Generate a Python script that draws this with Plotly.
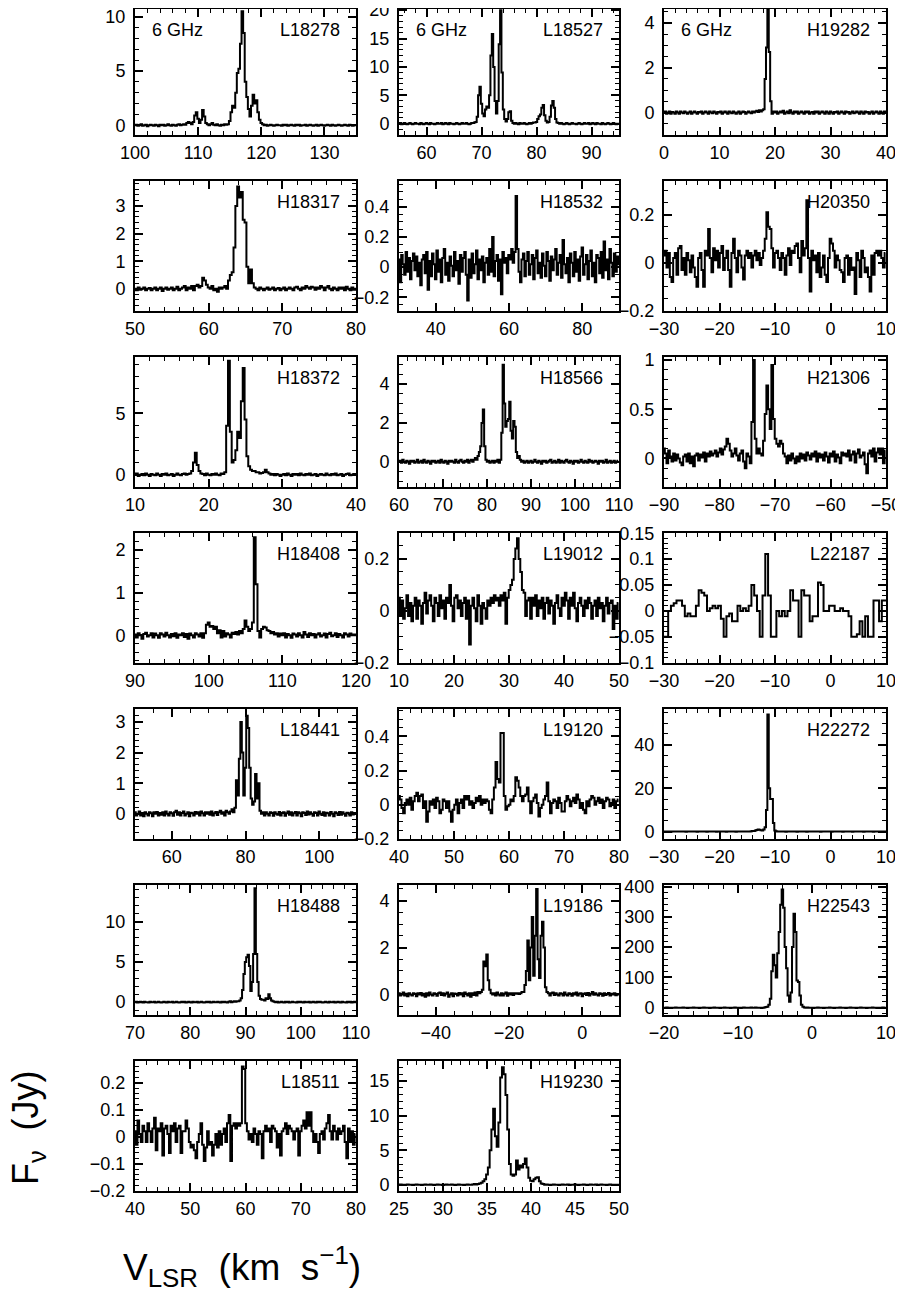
import numpy as np
import plotly.graph_objects as go

# ---------------- data: flux density (Jy) per channel ----------------
# each spectrum: first channel velocity V0, channel width DV (km/s)
L18278 = [0, .05, -.05, 0, .1, -.05, 0, .05, -.1, 0,
          .05, 0, -.05, .05, 0, -.1, .05, 0, .05, -.05,
          0, .1, 0, -.05, .05, 0, -.05, .05, .1, 0,
          .05, .1, .05, .2, .3, .2, .1, .3, .9, 1.2,
          .6, .2, .5, 1.4, .8, .2, .1, 0, .1, .2,
          .05, 0, .1, 0, -.05, .05, 0, .1, .05, .1,
          .4, 1.2, 1.8, 1.6, 3.0, 4.8, 5.2, 7.5, 10.5, 8.5,
          4.0, 2.6, 1.5, .8, 1.8, 2.8, 2.0, 2.3, 1.2, .5,
          .2, .1, 0, .05, -.05, 0, .05, 0, -.05, 0,
          .05, 0, 0, -.05, .05, 0, .05, -.05, 0, .05,
          0, -.05, .05, 0, .05, -.05, 0, 0, .05, -.05,
          0, .05, 0, -.05, 0, .05, -.05, 0, .05, 0,
          -.05, 0, .05, 0, -.05, .05, 0, -.05, 0, .05,
          0, -.05, 0, .05, 0, -.05, .05, 0, -.05, 0,
          0]
L18527 = [0, .1, -.1, 0, .1, 0, -.1, 0, .1, 0,
          -.1, 0, .1, 0, 0, -.1, .1, 0, -.1, 0,
          .1, 0, -.1, .1, 0, 0, -.1, 0, .1, 0,
          0, .1, -.1, 0, .1, 0, -.1, .1, 0, 0,
          -.1, 0, .1, 0, -.1, 0, .1, 0, 0, .1,
          0, -.1, 0, .1, .1, .2, .3, 1.2, 5.0, 6.5,
          3.5, 1.8, 1.3, 2.5, 3.0, 2.8, 5.0, 12, 15.8, 10,
          4.0, 1.8, 4.0, 14, 20, 9, 2.5, .8, .4, .8,
          2.0, 2.2, .5, .1, 0, .1, 0, -.1, .1, 0,
          0, .1, 0, -.1, 0, .1, 0, .1, .2, .2,
          .3, .8, 1.3, 1.6, 2.8, 3.3, 1.5, .5, .2, .3,
          1.2, 3.2, 4.0, 2.8, .8, .2, .1, 0, .1, 0,
          -.1, 0, .1, 0, -.1, 0, .1, 0, 0, -.1,
          0, .1, 0, -.1, 0, .1, 0, 0, .1, -.1,
          0, .1, 0, -.1, .1, 0, 0, -.1, .1, 0,
          -.1, 0, .1, 0, -.1, 0, .1, 0, -.1, 0,
          0]
H19282 = [0, .05, -.05, 0, .05, -.05, .03, 0, -.05, .05,
          0, -.05, .05, 0, -.03, .05, 0, -.05, 0, .05,
          -.05, 0, .05, 0, -.05, .03, 0, .05, -.05, 0,
          .05, 0, -.05, .05, 0, -.03, .05, 0, -.05, .03,
          0, .05, -.05, 0, .05, 0, -.05, .05, 0, -.03,
          .05, 0, -.05, 0, .05, -.05, 0, .05, .03, -.05,
          0, .05, 0, -.03, .05, 0, .05, .08, .03, .1,
          .05, .1, .15, 1.5, 2.9, 4.6, 2.7, .5, -.05, .05,
          0, .05, -.05, 0, .05, 0, .08, -.05, 0, .05,
          -.03, .1, 0, -.05, .05, 0, .05, -.05, 0, .05,
          0, -.05, .05, 0, .05, -.05, 0, .03, -.05, .05,
          0, .05, -.05, 0, .05, 0, -.05, .05, 0, -.05,
          .05, 0, -.05, .03, 0, .05, -.05, 0, .05, 0,
          -.05, .05, 0, .03, -.05, 0, .05, -.03, 0, .05,
          0, -.05, .05, 0, -.05, .05, 0, .03, -.05, 0,
          .05, -.05, 0, .05, 0, -.05, .05, 0, -.05, .05,
          0]
H18317 = [0, -.05, .05, -.03, 0, .05, -.05, 0, .03, -.05,
          0, .05, -.05, 0, .05, -.08, 0, .05, -.03, 0,
          .05, -.05, 0, .08, -.05, 0, .05, .1, -.05, .05,
          0, .1, -.05, .1, .15, .05, .1, .4, .3, .15,
          .05, 0, .1, -.05, 0, -.1, .05, 0, .05, .1,
          0, .3, .5, .6, 1.5, 3.0, 3.7, 3.3, 3.5, 2.5,
          2.4, .8, .2, .7, .2, .05, 0, -.05, .05, 0,
          -.05, 0, .05, -.03, 0, .05, -.05, 0, .03, -.05,
          0, .05, -.05, 0, .05, 0, -.05, .05, .08, 0,
          -.05, .05, 0, .1, .05, 0, .08, .05, -.03, .05,
          0, .1, .05, -.05, .05, .1, 0, -.05, .05, 0,
          -.05, .05, 0, .05, -.05, .08, 0, -.05, .05, -.03,
          0]
H18532 = [.05, -.1, .08, .02, -.05, .1, -.03, .06, -.08, .04,
          .09, -.02, .07, -.06, .03, -.12, .05, .08, -.04, .1,
          -.15, .04, -.06, .09, .02, -.08, .11, -.03, .05, -.1,
          .06, .12, -.05, .03, -.09, .07, .01, -.06, .1, -.02,
          .04, -.11, .08, -.03, .06, .1, -.05, -.22, .05, -.07,
          .09, -.04, .02, .11, -.08, .05, -.02, .07, -.1, .03,
          .06, -.05, .12, -.03, .2, -.06, .04, .08, -.09, .05,
          -.18, .1, .03, .06, -.04, .08, .05, .12, .03, .1,
          .47, .12, -.03, -.1, .05, .09, -.06, .04, .1, -.05,
          .02, .08, -.08, .06, .11, -.04, .03, -.07, .09, .01,
          -.06, .1, .04, -.09, .07, -.02, .05, .12, -.05, .03,
          .08, -.07, .18, .02, -.04, .06, -.1, .09, .03, -.06,
          .1, -.03, .05, -.09, .07, .13, -.05, .02, .08, -.08,
          .04, .11, -.06, .03, -.1, .08, .06, -.04, .1, -.07,
          .17, -.02, .05, -.08, .12, .03, -.06, .09, -.03, .07,
          .02]
H20350 = [.03, .05, -.02, .04, -.06, -.08, .02, .04, -.05, .06,
          .07, -.03, .02, -.05, .04, .01, -.04, .03, -.02, -.06,
          -.1, .02, .04, -.03, -.1, .05, .03, .14, .02, -.04,
          .06, .01, .05, -.02, .04, .07, -.03, .02, .05, -.03,
          -.1, .04, .1, .02, -.04, .05, .03, -.02, -.07, .03,
          .05, .02, .04, -.02, .03, .05, .01, .04, -.01, .02,
          .05, .1, .21, .15, .14, .06, -.02, .04, .05, .02,
          -.03, .04, .02, -.05, .03, .06, -.01, .05, .04, .07,
          .08, .02, -.04, .09, .03, .06, .26, .02, -.12, .05,
          .01, .03, -.04, .04, -.06, -.02, .03, -.05, -.08, .02,
          .1, .08, .05, -.02, .03, .01, -.03, -.04, -.08, .02,
          .03, -.05, .02, -.03, -.02, -.13, .04, .01, -.06, .05,
          .02, -.04, -.02, -.06, -.12, .03, -.05, .04, .05, .03,
          .05, .02, -.02, .04]
H18372 = [0, .1, -.1, 0, .05, -.05, .1, 0, -.1, .05,
          0, -.05, .1, 0, -.1, .05, 0, .1, -.05, 0,
          .05, -.1, 0, .1, 0, -.05, .05, .1, 0, .05,
          .1, .3, 1.0, 1.8, .8, .3, .1, .05, -.05, .1,
          0, -.05, .05, 0, .1, 0, -.05, .1, .05, .2,
          4.0, 9.3, 3.5, 1.0, 1.2, 2.0, 3.5, 3.0, 6.0, 8.7,
          4.5, 1.5, .7, .4, .3, .3, .2, .2, .1, .15,
          .2, .4, .2, .1, 0, .05, -.05, .05, 0, -.1,
          0, .05, -.05, .1, 0, -.1, .05, 0, .05, -.05,
          .1, 0, -.05, .05, 0, .1, -.05, 0, .05, -.1,
          0, .05, 0, -.05, .1, 0, -.05, .05, 0, .1,
          -.05, 0, .05, -.1, 0, .05, .1, -.05, 0, .05,
          0]
H18566 = [0, .05, -.05, .1, 0, -.05, .05, 0, -.1, .05,
          0, .05, -.05, 0, .1, -.05, 0, .05, -.05, .1,
          0, -.05, .05, 0, -.1, .05, 0, .05, -.05, 0,
          .05, -.05, .1, 0, -.05, .05, 0, -.1, .05, 0,
          .05, 0, -.05, .1, 0, -.05, .05, .1, 0, -.05,
          .05, 0, .1, -.05, .05, .1, 0, .1, .2, .1,
          .3, .5, .8, 2.0, 2.7, .8, .1, 0, .05, -.05,
          0, .05, -.05, .05, 0, .1, -.05, .1, 1.5, 5.0,
          3.0, 1.8, 2.1, 2.2, 3.1, 1.6, 1.2, 2.1, 1.8, .5,
          .2, .3, .1, 0, .05, -.05, 0, .05, -.05, 0,
          .05, -.05, 0, .1, 0, -.05, .05, 0, -.1, .05,
          0, .05, -.05, 0, .05, .1, -.05, 0, .05, -.05,
          0, .1, -.05, .05, 0, -.05, .05, .1, 0, -.05,
          .05, 0, -.1, .05, 0, .05, -.05, 0, .1, 0,
          -.05, .05, 0, -.05, .1, 0, .05, -.05, 0, .05,
          0, -.1, .05, 0, .05, -.05, 0, .1, -.05, 0,
          .05, -.05, 0, .05, -.05, 0, .05]
H21306 = [.1, .05, -.05, .08, .02, -.03, .05, -.02, .04, 0,
          -.04, -.07, .02, .04, -.03, .05, -.05, .02, -.08, .03,
          .05, -.02, .04, .01, .06, -.03, .05, .02, .07, .03,
          .05, .08, .02, .06, .1, .04, .09, .12, .2, .15,
          .08, .02, .05, .1, .03, -.02, .05, .08, -.03, -.1,
          .05, .02, -.05, .37, 1.0, .2, .05, .1, .05, .03,
          .18, .45, .74, .5, .3, .95, .4, .2, .15, .12,
          .18, .15, .05, .02, -.05, .03, -.02, .05, 0, -.05,
          .02, -.03, .05, 0, .04, -.02, .06, .03, -.01, .05,
          .02, .07, -.03, .05, .01, .04, -.02, .06, .02, -.04,
          .05, .02, .07, -.03, .04, .01, -.05, .06, .03, .05,
          .02, .08, -.02, .04, .07, -.04, .05, .09, .01, .03,
          .06, -.06, -.15, .05, .08, .02, .1, -.03, .06, .1,
          .04, .1, -.05, .08]
H18408 = [.02, -.05, .05, 0, -.08, .03, .06, -.03, 0, .05,
          -.05, .04, 0, -.06, .05, .02, -.03, .06, 0, -.05,
          .03, -.02, .05, -.06, .02, 0, .05, -.04, .03, -.08,
          .04, 0, -.05, .05, .02, -.03, .05, -.06, .05, .25,
          .3, .2, .22, .15, .2, .05, .12, -.05, .1, -.03,
          .05, .02, -.05, .06, .03, .08, .02, .1, .05, .15,
          .35, .2, .1, .15, .3, 2.3, 1.2, .1, -.05, .15,
          .2, .18, .12, .1, .05, .08, .02, .05, -.03, .04,
          0, .05, -.05, .03, 0, -.06, .04, .02, -.03, .05,
          0, -.05, .08, .02, -.04, .05, 0, .03, -.05, .02,
          .05, -.03, 0, .04, -.05, .03, .06, -.02, 0, .05,
          -.04, .03, 0, -.05, .05, .02, -.03, .04, 0, .02,
          0]
L19012 = [.05, -.02, .04, -.03, .01, .06, -.02, .03, -.04, .02,
          .05, -.03, .04, .02, -.05, .03, .07, -.01, .04, .06,
          .02, -.04, .05, .03, -.02, .06, .01, .04, -.03, .05,
          .03, .1, .02, -.04, .05, .06, .01, .04, -.02, .03,
          .05, -.03, .04, -.13, .02, .05, .01, -.04, .06, .02,
          -.05, .03, .01, -.03, .04, .02, .05, .03, .06, .04,
          .05, .02, .06, .04, .07, -.05, .05, .08, .1, .12,
          .2, .24, .28, .2, .15, .08, .07, -.02, .04, .05,
          -.03, .05, .02, .06, -.02, .04, .01, .05, -.03, .03,
          .05, -.01, .04, .02, -.05, .03, .06, .01, -.02, .05,
          .02, .07, .04, -.03, .05, .02, .07, .01, -.04, .03,
          .05, .02, -.02, .04, .01, .05, .03, -.03, .02, .04,
          -.02, .05, .01, .03, -.04, .02, .05, -.01, .03, .04,
          -.07, .02, -.03, .03]
L22187 = [-.05, -.05, 0, .01, .015, .02, .02, .01, -.01, -.005,
          -.01, -.01, .01, .04, .035, .03, 0, .005, .01, .005,
          .01, -.015, -.05, -.01, -.005, -.02, -.02, .01, 0, .005,
          0, .01, .05, .03, 0, -.05, .03, .11, .03, -.05,
          -.05, 0, -.01, 0, -.01, 0, .04, .02, .02, -.05,
          .04, .03, .03, -.02, -.01, -.01, .055, .05, 0, 0,
          .01, .01, 0, 0, .005, 0, 0, -.01, -.05, -.05,
          -.045, -.02, -.05, -.01, -.05, -.05, .02, .02, -.02, .02,
          .02]
L18441 = [.05, -.05, 0, .08, -.05, .03, -.08, .05, 0, -.05,
          .05, .02, -.08, .05, 0, .06, -.05, .03, -.03, .05,
          -.05, .08, 0, -.05, .05, .02, -.06, .05, .1, -.03,
          .05, -.05, .03, .08, -.05, 0, .05, -.08, .04, .02,
          -.05, .06, 0, .05, -.05, .08, .02, -.05, .05, 0,
          .05, -.03, .08, -.05, .02, .06, -.04, .05, .1, 0,
          .05, -.05, .1, .05, 0, .08, .15, .05, .2, 1.1,
          .6, 1.8, 3.0, 2.0, .6, 1.5, 3.2, 2.8, 1.5, .5,
          .3, .4, 1.3, .5, 1.0, .1, 0, .05, -.05, .05,
          0, -.05, .05, .03, -.06, .05, 0, -.03, .06, -.05,
          .03, .05, -.06, .02, .08, -.03, .05, -.05, .02, .06,
          -.05, .05, .02, -.08, .05, .03, -.04, .08, -.02, .05,
          0, -.06, .05, .03, -.05, .08, 0, -.04, .05, -.06,
          .04, .02, -.05, .06, 0, -.08, .05, .02, -.04, .06,
          -.03, .05, 0, -.06, .04, .02, -.05, .05, -.02, .03,
          0]
L19120 = [.05, .03, -.02, -.05, .01, .03, 0, .04, -.03, .02,
          .05, .07, .02, .05, .06, -.02, .02, -.1, -.04, .02,
          0, .03, -.02, .04, .02, -.05, -.03, .03, .02, -.02,
          .02, -.04, -.1, -.03, 0, .03, -.05, .01, .03, -.02,
          .05, .03, .05, 0, .02, -.02, .01, .04, .02, .05,
          0, .03, .01, .03, .02, -.03, -.05, .03, .1, .25,
          .15, .13, .42, .42, .05, -.03, -.01, 0, .03, .02,
          .05, .16, .14, .1, .05, .02, .05, .06, .1, .02,
          -.05, .02, .04, .06, .01, -.07, -.02, 0, .03, .05,
          .13, .02, -.05, .01, .03, .02, -.02, .04, .01, -.04,
          -.04, .02, .05, .03, -.01, .02, .04, .01, .06, .03,
          -.02, .01, -.03, -.05, .02, -.01, .03, .05, .04, 0,
          .02, .04, .01, .03, -.02, .02, .04, .03, -.01, .01,
          .03, -.02, .02, .03]
H22272 = [0, 0, .1, 0, 0, -.1, 0, 0, .1, 0,
          0, 0, 0, .1, 0, 0, -.1, 0, 0, 0,
          .1, 0, 0, 0, -.1, 0, 0, .1, 0, 0,
          0, -.1, 0, 0, .1, 0, 0, 0, -.1, 0,
          0, .1, 0, 0, 0, -.1, 0, 0, .1, 0,
          0, 0, -.1, 0, .1, 0, 0, 0, 0, .1,
          0, 0, .1, .2, .3, .3, .5, .8, 1.0, .9,
          .6, .5, 1.0, 2.0, 10, 54, 20, 15, 15, 4,
          .5, .2, .1, 0, 0, .1, 0, 0, -.1, 0,
          0, 0, .1, 0, 0, 0, -.1, 0, 0, .1,
          0, 0, 0, -.1, 0, .1, 0, 0, 0, 0,
          .1, 0, 0, -.1, 0, 0, 0, .1, 0, 0,
          0, -.1, 0, 0, .1, 0, 0, 0, 0, -.1,
          0, 0, .1, 0, 0, 0, -.1, 0, 0, 0,
          .1, 0, 0, 0, -.1, 0, 0, .1, 0, 0,
          0, -.1, 0, 0, .1, 0, 0, 0, -.1, 0,
          0]
H18488 = [0, .05, -.05, 0, .05, 0, -.05, .05, 0, 0,
          -.05, .05, 0, 0, .05, -.05, 0, .05, 0, -.05,
          0, .05, 0, -.05, .05, 0, 0, .05, -.05, 0,
          .05, 0, -.05, 0, .05, 0, .05, -.05, 0, .05,
          0, -.05, .05, 0, 0, .05, -.05, 0, .05, 0,
          -.05, 0, .05, 0, .05, -.05, 0, .05, 0, 0,
          .05, 0, -.05, .05, 0, .05, 0, -.05, .05, .1,
          0, .05, .1, .05, .1, .1, .2, .5, 1.5, 3.5,
          5.0, 5.6, 5.9, 4.5, 1.4, 2.5, 6, 14.2, 6, 2.5,
          .8, .4, .3, .3, .2, .5, .4, 1.0, .5, .2,
          .1, .05, 0, .05, -.05, 0, .05, 0, -.05, .05,
          0, .05, -.05, 0, .05, 0, 0, -.05, .05, 0,
          .05, 0, -.05, .05, 0, 0, .05, -.05, 0, .05,
          0, -.05, .05, 0, .05, 0, -.05, 0, .05, 0,
          -.05, .05, 0, 0, .05, -.05, 0, .05, 0, -.05,
          .05, 0, 0, -.05, .05, 0, .05, -.05, 0, .05,
          0]
L19186 = [.05, -.05, 0, .08, -.05, .03, -.08, .05, 0, -.05,
          .05, .02, -.08, .05, 0, .06, -.05, .03, -.1, .05,
          -.05, .08, 0, -.05, .05, .02, -.06, .05, .08, -.03,
          .05, -.05, .03, .08, -.1, 0, .05, -.08, .04, .02,
          -.05, .06, 0, .05, -.08, .08, .02, -.05, .05, -.1,
          .05, -.03, .08, -.05, .1, .05, .1, .2, 1.4, 1.2,
          1.7, .6, .2, .05, 0, .05, -.05, .08, 0, -.05,
          .05, -.05, .03, .08, -.06, .05, 0, .05, -.03, .05,
          .03, .05, .02, .05, .1, .1, .4, 1.0, 2.3, .6,
          2.0, 3.3, .8, 2.5, 4.5, 1.5, .7, 2.5, 3.1, 2.0,
          .3, .1, .05, -.05, .05, .08, -.03, .05, 0, -.05,
          .05, .03, -.05, .08, 0, -.05, .05, .02, -.06, .05,
          0, .08, -.05, .03, .05, -.08, .02, .05, -.03, .06,
          -.05, .03, .1, -.02, .05, 0, -.05, .05, .02, -.06,
          .05, -.03, .02, .06, -.05, .03, 0, .05, -.04, .02,
          0]
H22543 = [0, 0, 1, 0, 0, -1, 0, 0, 1, 0,
          0, 0, 0, 1, 0, 0, -1, 0, 0, 0,
          1, 0, 0, 0, -1, 0, 0, 1, 0, 0,
          0, -1, 0, 0, 1, 0, 0, 0, -1, 0,
          0, 1, 0, 0, 0, -1, 0, 0, 1, 0,
          0, 0, -1, 0, 1, 0, 0, 0, 0, 1,
          0, 0, 1, 0, 0, 0, -1, 0, 1, 2,
          3, 10, 30, 120, 175, 140, 100, 180, 250, 340,
          390, 330, 200, 130, 40, 20, 50, 200, 310, 250,
          90, 85, 40, 10, 3, 1, 0, 1, 0, 0,
          0, -1, 0, 0, 1, 0, 0, 0, -1, 0,
          0, 0, 1, 0, 0, -1, 0, 0, 0, 1,
          0, 0, 0, -1, 0, 0, 1, 0, 0, 0,
          -1, 0, 0, 1, 0, 0, 0, -1, 0, 0,
          0, 1, 0, 0, -1, 0, 0, 0, 1, 0,
          0]
L18511 = [.02, -.03, .06, .01, -.02, .04, .02, -.02, .05, .02,
          -.02, .03, .07, -.05, .03, .02, .05, -.07, .03, .04,
          .01, -.06, .04, .02, .05, -.02, .03, .04, -.06, .02,
          .02, .06, .03, -.02, -.04, -.03, -.05, -.08, -.02, .01,
          .05, -.03, -.09, -.04, .02, -.03, -.02, -.07, -.03, .01,
          -.04, .02, -.03, .01, .03, -.02, .05, .08, -.09, .04,
          .05, .03, .05, .04, .05, .26, .25, .05, .02, -.01,
          .01, -.02, .03, .01, -.03, .02, .01, -.08, .02, .04,
          .02, .03, -.02, .04, .03, .02, -.04, .01, -.07, .02,
          .03, .05, .01, .04, .03, .02, -.01, .02, .03, -.07,
          .02, .04, .06, .03, .09, .04, .09, .02, -.02, .01,
          -.02, -.06, .01, .02, -.01, .03, .05, .08, .02, -.01,
          .04, .02, -.01, .03, .01, .02, .04, -.02, -.08, .03,
          -.02, .02, -.03, .01]
H19230 = [0, .05, 0, -.05, 0, .05, 0, 0, -.05, 0,
          .05, 0, 0, -.05, 0, .05, 0, 0, .05, 0,
          -.05, 0, .05, 0, 0, -.05, 0, .05, 0, 0,
          .05, 0, -.05, 0, .05, 0, 0, -.05, 0, .05,
          0, 0, .05, .1, .05, .1, .2, .3, .5, .8,
          1.5, 2.5, 5, 8, 11, 7, 5.5, 9, 15.5, 17,
          16, 13, 8, 3, 1.5, 1.3, 1.5, 3.5, 2.2, 2.8,
          2.5, 3.0, 3.8, 2.5, 1.0, .6, .5, .8, 1.0, 1.1,
          .5, .2, .1, 0, .05, 0, -.05, 0, .05, 0,
          0, -.05, 0, .05, 0, 0, .05, -.05, 0, 0,
          .05, 0, -.05, 0, 0, .05, 0, -.05, 0, .05,
          0, 0, .05, -.05, 0, .05, 0, 0, -.05, 0,
          .05, 0, -.05, 0, 0,
          0]

# (label, flux, V0, DV, x range, y range, x dtick, x minor, y dtick, y minor, 6 GHz tag)
PANELS = [
    ("L18278", L18278, 100, 0.25, [100, 135], [-0.9, 10.7], 10, 2, 5, 1, True),
    ("L18527", L18527, 55, 0.25, [55, 95], [-2.0, 20.2], 10, 2, 5, 1, True),
    ("H19282", H19282, 0, 0.25, [0, 40], [-1.0, 4.62], 10, 2, 2, 0.5, True),
    ("H18317", H18317, 50, 0.25, [50, 80], [-0.8, 3.9], 10, 2, 1, 0.2, False),
    ("H18532", H18532, 30, 0.4, [30, 90], [-0.29, 0.57], 20, 5, 0.2, 0.05, False),
    ("H20350", H20350, -30, 0.3, [-30, 10], [-0.201, 0.34], 10, 2, 0.2, 0.05, False),
    ("H18372", H18372, 10, 0.25, [10, 40], [-1.0, 9.6], 10, 2, 5, 1, False),
    ("H18566", H18566, 60, 0.3, [60, 110], [-1.3, 5.4], 10, 2, 2, 0.5, False),
    ("H21306", H21306, -90, 0.3, [-90, -50], [-0.29, 1.03], 10, 2, 0.5, 0.1, False),
    ("H18408", H18408, 90, 0.25, [90, 120], [-0.65, 2.4], 10, 2, 1, 0.2, False),
    ("L19012", L19012, 10, 0.3, [10, 50], [-0.201, 0.3], 10, 2, 0.2, 0.05, False),
    ("L22187", L22187, -30, 0.5, [-30, 10], [-0.1005, 0.1505], 10, 2, 0.05, 0.01, False),
    ("L18441", L18441, 50, 0.4, [50, 110], [-0.82, 3.42], 20, 5, 1, 0.2, False),
    ("L19120", L19120, 40, 0.3, [40, 80], [-0.201, 0.56], 10, 2, 0.2, 0.05, False),
    ("H22272", H22272, -30, 0.25, [-30, 10], [-3.4, 56.5], 10, 2, 20, 5, False),
    ("H18488", H18488, 70, 0.25, [70, 110], [-1.6, 14.6], 10, 2, 5, 1, False),
    ("L19186", L19186, -50, 0.4, [-50, 10], [-0.88, 4.67], 20, 5, 2, 0.5, False),
    ("H22543", H22543, -20, 0.2, [-20, 10], [-24, 405], 10, 2, 100, 20, False),
    ("L18511", L18511, 40, 0.3, [40, 80], [-0.201, 0.28], 10, 2, 0.1, 0.02, False),
    ("H19230", H19230, 25, 0.2, [25, 50], [-0.9, 17.9], 5, 1, 5, 1, False),
]

# ---------------- layout geometry (page pixels) ----------------
PAGE_W, PAGE_H = 903, 1296
OFF = 8                       # default body margin of the html page
W, H = PAGE_W - OFF, PAGE_H - OFF
COLS = [(135, 356), (399, 619), (664, 886)]
ROW_TOP0, ROW_PITCH, ROW_H = 5, 176, 130
FONT = "Liberation Sans, Arial, Helvetica, sans-serif"


def px(xp):
    return (xp - OFF) / W


def py(yp):
    return min(1.0, max(0.0, 1 - (yp - OFF) / H))


fig = go.Figure()
annotations = []
layout = {}

for k, (label, flux, v0, dv, xr, yr, xd, xm, yd, ym, ghz) in enumerate(PANELS):
    row, col = divmod(k, 3)
    left, right = COLS[col]
    top = ROW_TOP0 + ROW_PITCH * row
    bot = top + ROW_H
    top = max(top, OFF + 1)
    n = k + 1
    vel = v0 + dv * np.arange(len(flux))
    fig.add_trace(go.Scatter(
        x=vel, y=flux, mode="lines",
        line=dict(color="black", width=2, shape="hvh"),
        xaxis=f"x{n}", yaxis=f"y{n}", showlegend=False, hoverinfo="skip"))
    common = dict(showline=True, linecolor="black", linewidth=2, mirror="allticks",
                  ticks="inside", ticklen=8, tickwidth=1.6, tickcolor="black",
                  showgrid=False, zeroline=False, automargin=False,
                  ticklabeloverflow="allow",
                  tickfont=dict(family=FONT, size=18, color="black"))
    layout[f"xaxis{n}"] = dict(
        common, domain=[px(left), px(right)], range=[xr[0] - 1e-6, xr[1] + 1e-6],
        anchor=f"y{n}", tick0=0, dtick=xd, ticklabelstandoff=0,
        minor=dict(dtick=xm, tick0=0, ticks="inside", ticklen=4, tickwidth=1.4, tickcolor="black"))
    layout[f"yaxis{n}"] = dict(
        common, domain=[py(bot), py(top)], range=yr,
        anchor=f"x{n}", tick0=0, dtick=yd, ticklabelstandoff=4,
        minor=dict(dtick=ym, tick0=0, ticks="inside", ticklen=4, tickwidth=1.4, tickcolor="black"))
    annotations.append(dict(
        text=label, xref="paper", yref="paper", x=px(right - 14), y=py(top + 21),
        xanchor="right", yanchor="middle", showarrow=False,
        font=dict(family=FONT, size=18, color="black")))
    if ghz:
        annotations.append(dict(
            text="6 GHz", xref="paper", yref="paper", x=px(left + 15), y=py(top + 21),
            xanchor="left", yanchor="middle", showarrow=False,
            font=dict(family=FONT, size=18, color="black")))

annotations.append(dict(
    text="F<sub>ν</sub>&nbsp;&nbsp;(Jy)", xref="paper", yref="paper",
    x=px(28), y=py(1128), xanchor="center", yanchor="middle", textangle=-90,
    showarrow=False, font=dict(family=FONT, size=36, color="black")))
annotations.append(dict(
    text="V<sub>LSR</sub>&nbsp;&nbsp;(km&nbsp;&nbsp;s<sup>−1</sup>)", xref="paper", yref="paper",
    x=px(121), y=py(1266), xanchor="left", yanchor="middle",
    showarrow=False, font=dict(family=FONT, size=37, color="black")))

fig.update_layout(
    width=W, height=H, margin=dict(l=0, r=0, t=0, b=0, autoexpand=False),
    paper_bgcolor="white", plot_bgcolor="white",
    annotations=annotations, **layout)

fig.write_html("out.html")
